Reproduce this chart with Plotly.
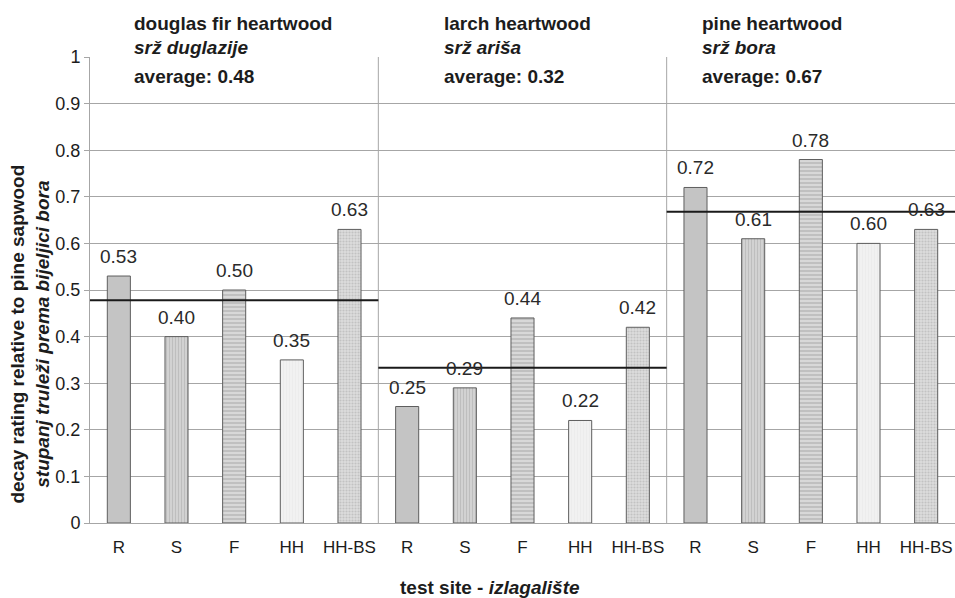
import plotly.graph_objects as go

# ---- data ----
species_en = ["douglas fir heartwood", "larch heartwood", "pine heartwood"]
species_hr = ["srž duglazije", "srž ariša", "srž bora"]
sites = ["R", "S", "F", "HH", "HH-BS"]
douglas = [0.53, 0.40, 0.50, 0.35, 0.63]
larch = [0.25, 0.29, 0.44, 0.22, 0.42]
pine = [0.72, 0.61, 0.78, 0.60, 0.63]
average_labels = ["0.48", "0.32", "0.67"]
average_lines = [0.478, 0.333, 0.668]
y_ticks = [0, 0.1, 0.2, 0.3, 0.4, 0.5, 0.6, 0.7, 0.8, 0.9, 1]
y_ticktext = ["0", "0.1", "0.2", "0.3", "0.4", "0.5", "0.6", "0.7", "0.8", "0.9", "1"]

groups = [douglas, larch, pine]
n_sites = len(sites)

FONT = "Liberation Sans, Arial, sans-serif"
TXT = "#1c1c1c"
GRID = "#a6a6a6"

styles = {
    "R": dict(color="#c4c4c4"),
    "S": dict(color="#cdcdcd", pattern=dict(shape="|", size=3, solidity=0.35,
                                            fgcolor="#a9a9a9", bgcolor="#d2d2d2")),
    "F": dict(color="#d4d4d4", pattern=dict(shape="-", size=4, solidity=0.4,
                                            fgcolor="#9c9c9c", bgcolor="#d8d8d8")),
    "HH": dict(color="#eeeeee", pattern=dict(shape="|", size=3, solidity=0.3,
                                              fgcolor="#e6e6e6", bgcolor="#f1f1f1")),
    "HH-BS": dict(color="#d8d8d8", pattern=dict(shape=".", size=3, solidity=0.4,
                                                fgcolor="#a8a8a8", bgcolor="#dcdcdc")),
}

fig = go.Figure()

for si, site in enumerate(sites):
    xs = [g * n_sites + si for g in range(len(groups))]
    ys = [grp[si] for grp in groups]
    marker = dict(line=dict(color="#5e5e5e", width=1), **styles[site])
    fig.add_trace(go.Bar(
        x=xs, y=ys, width=0.4, marker=marker,
        showlegend=False, name=site,
    ))
    # value labels above the bars
    for xv, yv in zip(xs, ys):
        fig.add_annotation(x=xv, y=yv, xref="x", yref="y", xanchor="center",
                           yanchor="bottom", yshift=7, showarrow=False,
                           text=f"{yv:.2f}",
                           font=dict(family=FONT, size=19, color="#2a2a2a"))

# average lines
for g, avg in enumerate(average_lines):
    fig.add_shape(type="line", xref="x", yref="y",
                  x0=g * n_sites - 0.5, x1=g * n_sites + n_sites - 0.5,
                  y0=avg, y1=avg, line=dict(color="#1a1a1a", width=2), layer="above")

# panel dividers
for g in range(1, len(groups)):
    fig.add_shape(type="line", xref="x", yref="y",
                  x0=g * n_sites - 0.5, x1=g * n_sites - 0.5,
                  y0=-0.012, y1=1.0, line=dict(color=GRID, width=1), layer="below")

# panel titles
title_offsets = [0.73, 1.11, 0.57]
for g in range(len(groups)):
    xg = g * n_sites - 0.5 + title_offsets[g]
    fig.add_annotation(x=xg, y=1.0715, xref="x", yref="paper", xanchor="left", yanchor="middle",
                       text=f"<b>{species_en[g]}</b>", showarrow=False,
                       font=dict(family=FONT, size=19, color=TXT))
    fig.add_annotation(x=xg, y=1.021, xref="x", yref="paper", xanchor="left", yanchor="middle",
                       text=f"<b><i>{species_hr[g]}</i></b>", showarrow=False,
                       font=dict(family=FONT, size=19, color=TXT))
    fig.add_annotation(x=xg, y=0.9585, xref="x", yref="paper", xanchor="left", yanchor="middle",
                       text=f"<b>average: {average_labels[g]}</b>", showarrow=False,
                       font=dict(family=FONT, size=19, color=TXT))

# axis titles
fig.add_annotation(x=-0.069, y=0.405, xref="paper", yref="paper", textangle=-90,
                   xanchor="center", yanchor="middle", showarrow=False,
                   text="<b>decay rating relative to pine sapwood</b><br><b><i>stupanj truleži prema bijeljici bora</i></b>",
                   font=dict(family=FONT, size=19, color=TXT))
fig.add_annotation(x=0.4625, y=-0.139, xref="paper", yref="paper",
                   xanchor="center", yanchor="middle", showarrow=False,
                   text="<b>test site - <i>izlagalište</i></b>",
                   font=dict(family=FONT, size=19, color=TXT))

tickvals = list(range(len(groups) * n_sites))
ticktext = sites * len(groups)

fig.update_layout(
    width=955, height=598,
    margin=dict(l=90, r=0, t=57, b=75, pad=0),
    paper_bgcolor="white", plot_bgcolor="white",
    barmode="overlay",
    font=dict(family=FONT, color=TXT),
    xaxis=dict(range=[-0.5, len(tickvals) - 0.5], tickmode="array",
               tickvals=tickvals, ticktext=ticktext, showgrid=False,
               showline=True, linecolor=GRID, linewidth=1, ticks="",
               tickfont=dict(family=FONT, size=17, color=TXT),
               ticklabelstandoff=9, zeroline=False),
    yaxis=dict(range=[0, 1.0], tickmode="array", tickvals=y_ticks, ticktext=y_ticktext,
               showgrid=True, gridcolor=GRID, gridwidth=1,
               showline=True, linecolor=GRID, linewidth=1,
               ticks="outside", ticklen=5, tickcolor=GRID,
               tickfont=dict(family=FONT, size=18, color=TXT), zeroline=False),
)

fig.write_html("out.html")
